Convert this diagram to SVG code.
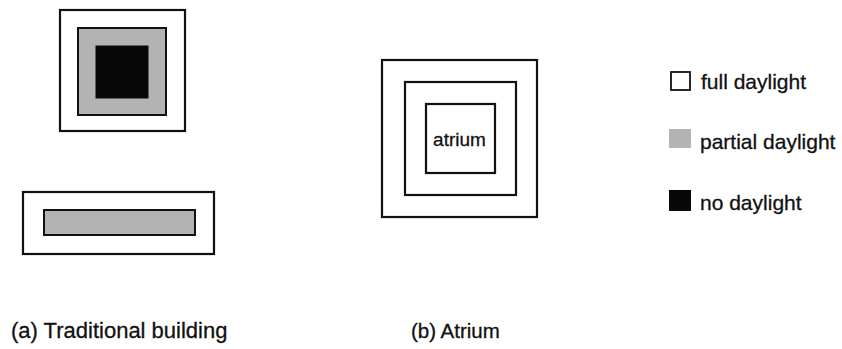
<svg xmlns="http://www.w3.org/2000/svg" width="842" height="349" viewBox="0 0 842 349">
<style>
.box{fill:#fff;stroke:#111;stroke-width:2.2}
.gray{fill:#b3b3b3;stroke:#111;stroke-width:2}
.blk{fill:#080808;stroke:#080808;stroke-width:1}
text{font-family:"Liberation Sans",Arial,sans-serif;fill:#111;stroke:#111;stroke-width:0.3}
.lab{font-size:22px}
.leg{font-size:21px}
</style>
<rect width="842" height="349" fill="#fff"/>
<g id="traditional-square">
<rect class="box" x="60" y="10" width="125" height="121"/>
<rect class="gray" x="78" y="28" width="88" height="87"/>
<rect class="blk" x="96" y="46" width="52" height="52"/>
</g>
<g id="traditional-long">
<rect class="box" x="23" y="192" width="191" height="62"/>
<rect class="gray" x="44" y="210" width="151" height="25"/>
</g>
<g id="atrium-building">
<rect class="box" x="382" y="60" width="155" height="157"/>
<rect class="box" x="405" y="82" width="111" height="113"/>
<rect class="box" x="426" y="104" width="69" height="69"/>
<text x="459.5" y="146" text-anchor="middle" style="font-size:19px">atrium</text>
</g>
<g id="legend-full">
<rect x="671" y="72" width="19" height="18" fill="#fff" stroke="#111" stroke-width="1.8"/>
<text class="leg" x="701" y="89">full daylight</text>
</g>
<g id="legend-partial">
<rect x="669" y="129" width="22" height="19" fill="#b3b3b3"/>
<text class="leg" x="700" y="149">partial daylight</text>
</g>
<g id="legend-none">
<rect x="669" y="190" width="22" height="21" fill="#080808"/>
<text class="leg" x="700" y="210">no daylight</text>
</g>
<g id="captions">
<text class="lab" x="11" y="338">(a) Traditional building</text>
<text x="411" y="338" style="font-size:20.5px">(b) Atrium</text>
</g>
</svg>
